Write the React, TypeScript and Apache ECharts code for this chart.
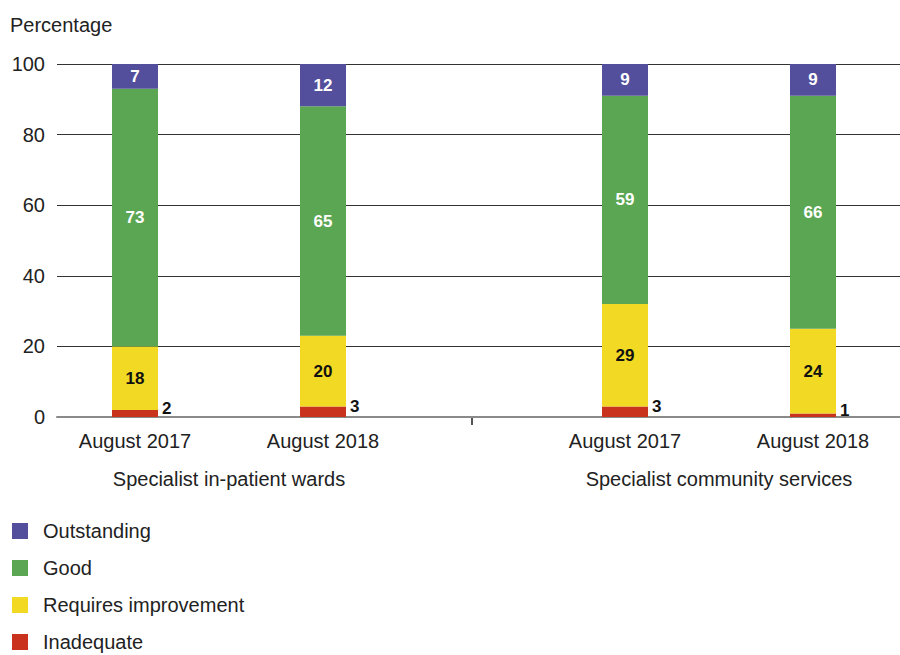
import React, { useEffect, useRef } from "react";
import * as echarts from "echarts";

const groups = ["Specialist in-patient wards", "Specialist community services"];
const periods = ["August 2017", "August 2018"];
const ratings = ["Outstanding", "Good", "Requires improvement", "Inadequate"];
const inadequate = [2, 3, 3, 1];
const requiresImprovement = [18, 20, 29, 24];
const good = [73, 65, 59, 66];
const outstanding = [7, 12, 9, 9];
const yTicks = [0, 20, 40, 60, 80, 100];

const FONT = "'Liberation Sans', Arial, sans-serif";
const COLORS: Record<string, string> = {
  Outstanding: "#534f9c",
  Good: "#5ba653",
  "Requires improvement": "#f2da24",
  Inadequate: "#c9321d",
};

export default function App() {
  const ref = useRef<HTMLDivElement>(null);
  useEffect(() => {
    if (!ref.current) return;
    const chart = echarts.init(ref.current, undefined, { renderer: "svg" });

    const stackData: { name: string; values: number[] }[] = [
      { name: "Inadequate", values: inadequate },
      { name: "Requires improvement", values: requiresImprovement },
      { name: "Good", values: good },
      { name: "Outstanding", values: outstanding },
    ];

    const series: any[] = [];
    [0, 1].forEach((g) => {
      stackData.forEach((s) => {
        const isRed = s.name === "Inadequate";
        const dark = s.name === "Good" || s.name === "Outstanding";
        series.push({
          type: "bar",
          name: s.name,
          xAxisIndex: g + 1,
          yAxisIndex: g + 1,
          stack: "total" + g,
          barWidth: 46,
          clip: false,
          data: s.values.slice(g * 2, g * 2 + 2),
          itemStyle: { color: COLORS[s.name] },
          label: {
            show: true,
            position: isRed ? "right" : "inside",
            distance: 4,
            offset: isRed ? [0, -5] : [0, 0],
            color: dark ? "#ffffff" : "#111111",
            fontFamily: FONT,
            fontWeight: "bold",
            fontSize: 17,
          },
        });
      });
    });

    const yBase = {
      type: "value",
      min: yTicks[0],
      max: yTicks[yTicks.length - 1],
      interval: 20,
    };

    const txt = { fontFamily: FONT, fontSize: 20, color: "#222222" };

    chart.setOption({
      animation: false,
      textStyle: { fontFamily: FONT },
      title: {
        text: "Percentage",
        left: 10,
        top: 15,
        padding: 0,
        textStyle: { ...txt, fontWeight: "normal" },
      },
      legend: {
        orient: "vertical",
        left: 12,
        top: 521,
        height: 134,
        padding: 0,
        itemWidth: 16,
        itemHeight: 16,
        itemGap: 17,
        icon: "rect",
        selectedMode: false,
        data: ratings,
        textStyle: { ...txt, padding: [0, 0, 0, 10] },
      },
      grid: [
        { left: 57, right: 0, top: 64, bottom: 238 },
        { left: 135, width: 188, top: 64, bottom: 238 },
        { left: 625, width: 188, top: 64, bottom: 238 },
      ],
      xAxis: [
        {
          gridIndex: 0,
          type: "category",
          data: ["", ""],
          axisLine: { show: true, lineStyle: { color: "#8a8a8a", width: 2 } },
          axisTick: { show: false },
          axisLabel: { show: false },
        },
        ...[0, 1].map((g) => ({
          gridIndex: g + 1,
          type: "category",
          boundaryGap: false,
          data: periods,
          axisLine: { show: false },
          axisTick: { show: false },
          axisLabel: { ...txt, margin: 14 },
          name: groups[g],
          nameLocation: "middle",
          nameGap: 52,
          nameTextStyle: txt,
        })),
      ],
      yAxis: [
        {
          ...yBase,
          gridIndex: 0,
          axisLine: { show: false },
          axisTick: { show: false },
          axisLabel: { ...txt, margin: 12 },
          splitLine: { show: true, lineStyle: { color: "#333333", width: 1 } },
        },
        ...[0, 1].map((g) => ({
          ...yBase,
          gridIndex: g + 1,
          show: false,
          splitLine: { show: false },
        })),
      ],
      graphic: [
        {
          type: "line",
          shape: { x1: 472, y1: 417, x2: 472, y2: 425 },
          style: { stroke: "#1a1a1a", lineWidth: 1.5 },
        },
      ],
      series,
    });
    return () => chart.dispose();
  }, []);
  return (
    <div
      ref={ref}
      style={{ position: "absolute", left: 0, top: 0, width: 900, height: 655 }}
    />
  );
}
